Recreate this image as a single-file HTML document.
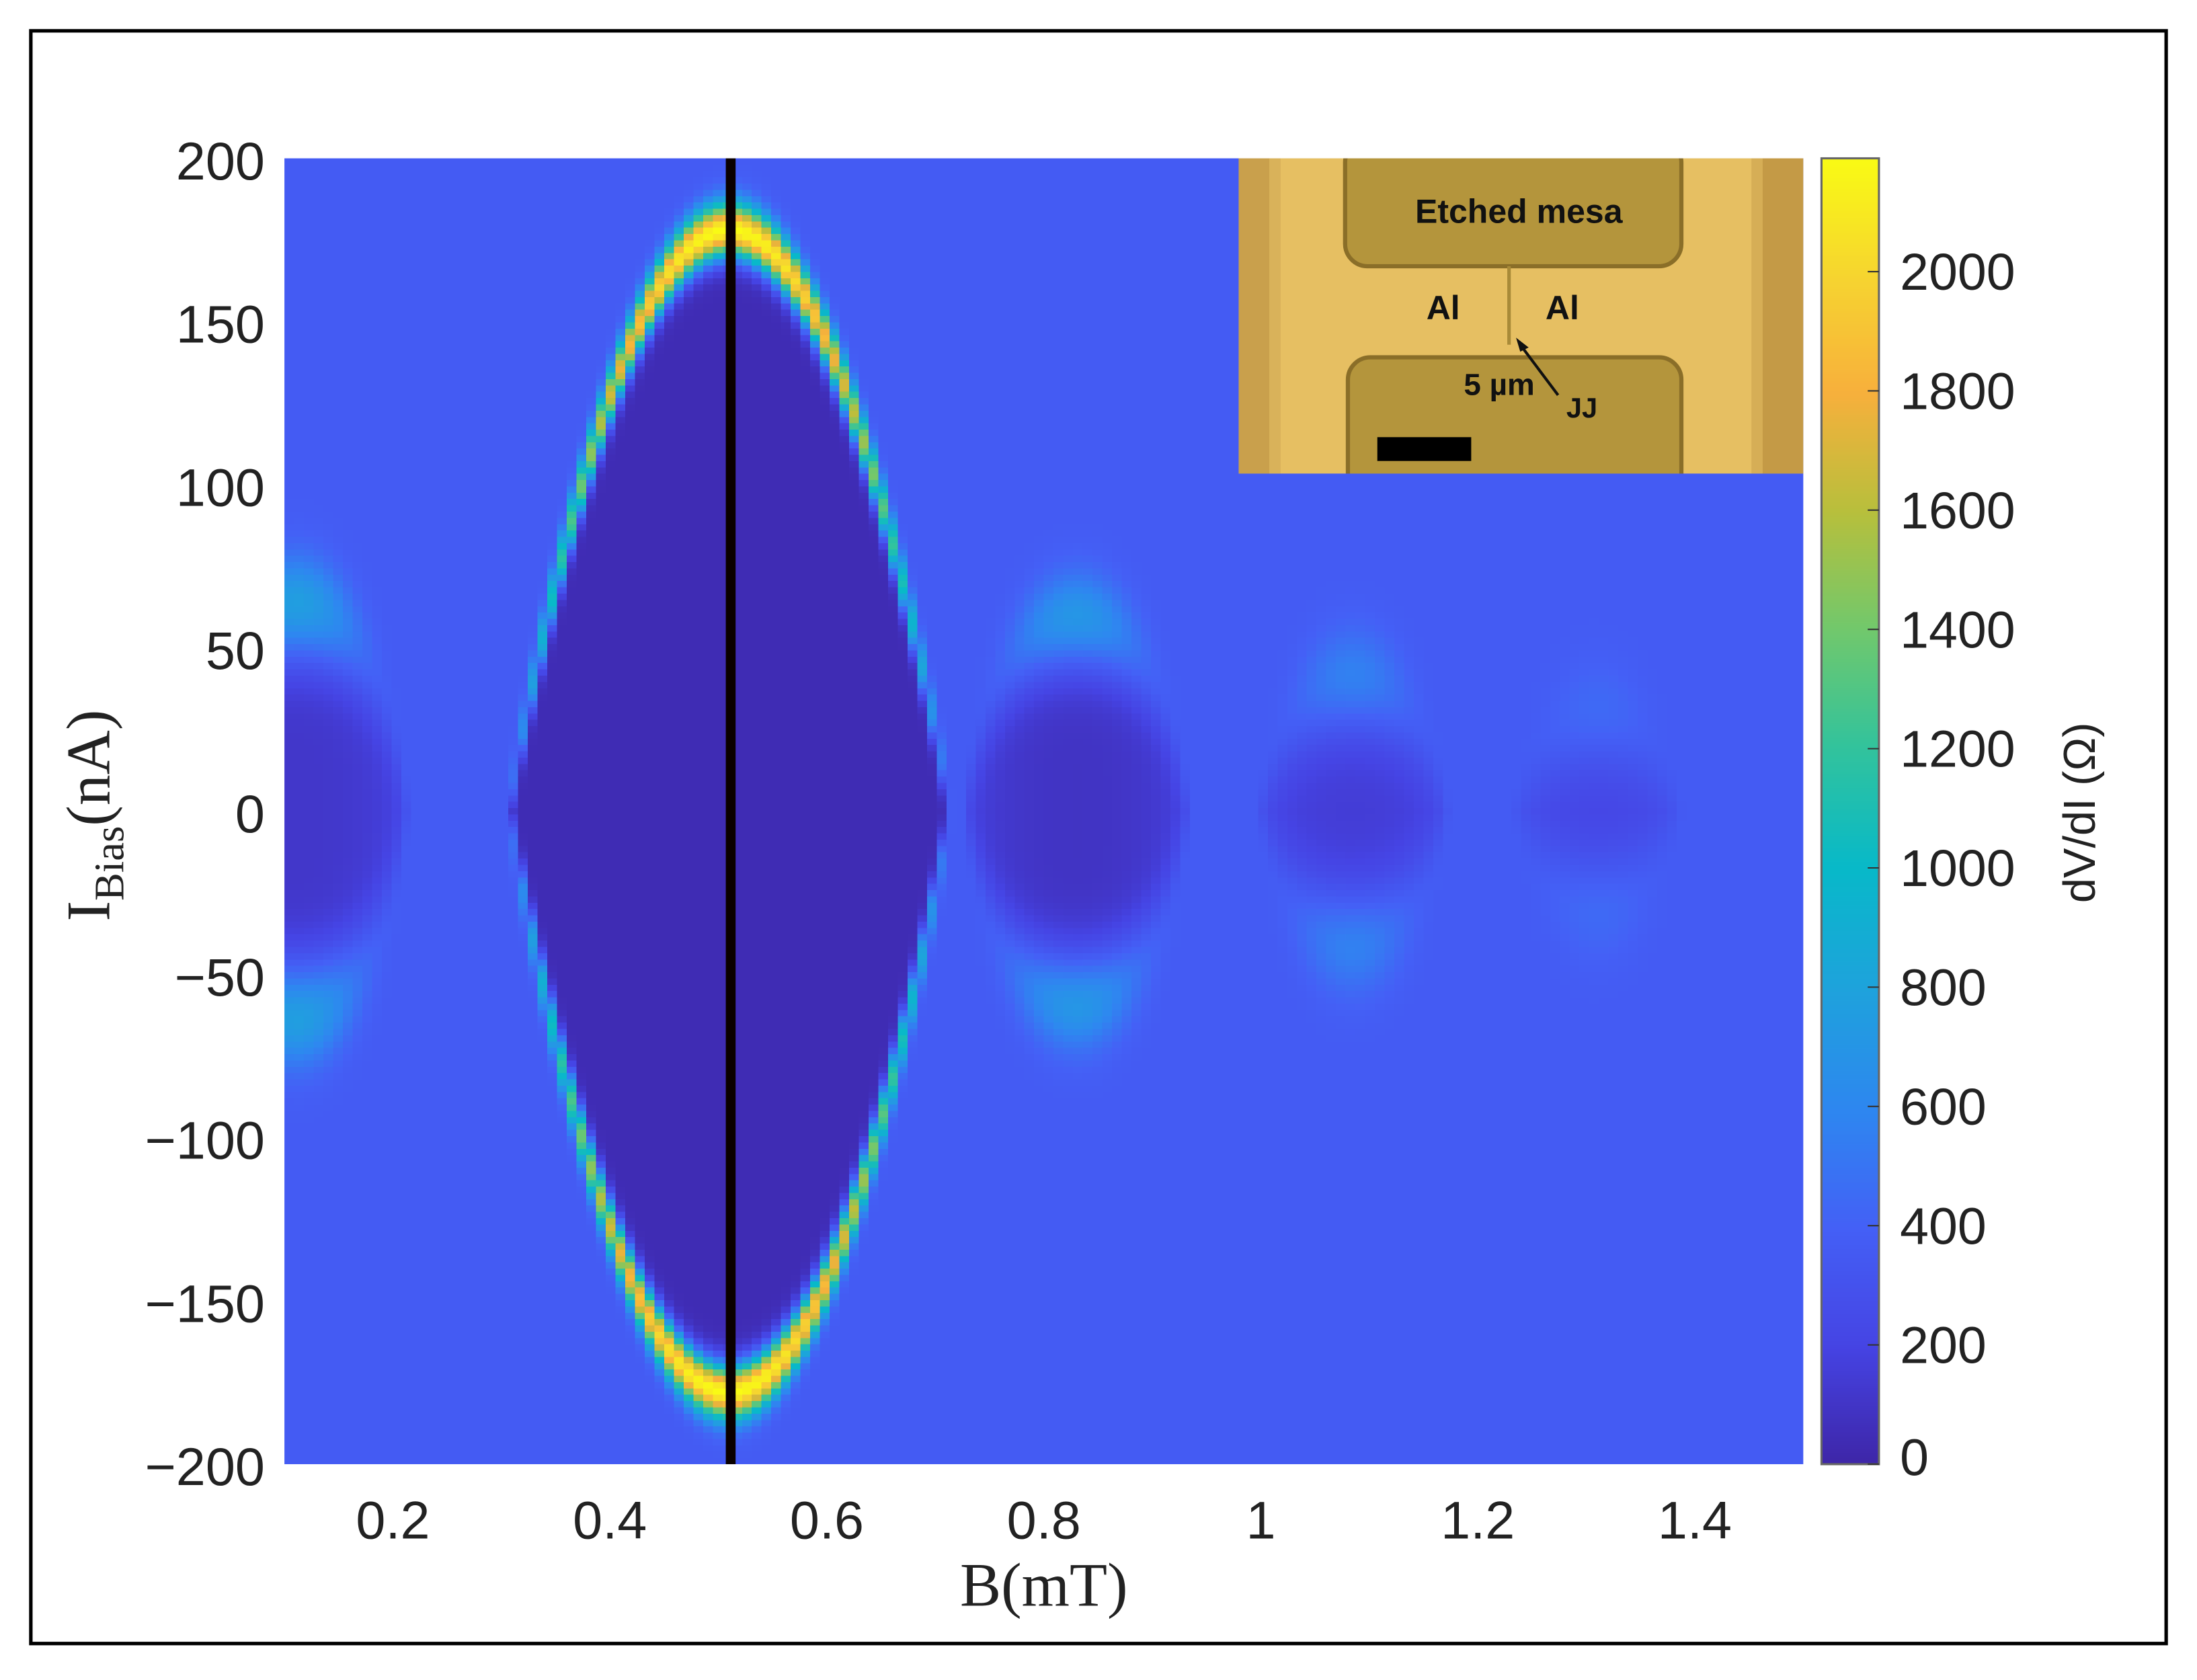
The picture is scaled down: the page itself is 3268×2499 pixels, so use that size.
<!DOCTYPE html>
<html><head><meta charset="utf-8"><style>
html,body{margin:0;padding:0;background:#fff;}
body{width:3268px;height:2499px;overflow:hidden;position:relative;}
#wrap{position:absolute;left:0;top:0;width:1568px;height:1199px;transform:scale(2.08418);transform-origin:0 0;}
#heat{position:absolute;left:203px;top:113px;width:1084px;height:932px;image-rendering:pixelated;}
#cbar{position:absolute;left:1300px;top:113px;width:41px;height:932px;}
svg{position:absolute;left:0;top:0;}
</style></head><body>
<div id="wrap">
<canvas id="heat" width="156" height="207"></canvas>
<canvas id="cbar" width="1" height="300"></canvas>
<svg id="ov" width="1568" height="1199" viewBox="0 0 1568 1199">
<defs><clipPath id="ic"><rect x="884" y="113" width="403" height="225"/></clipPath></defs>
<rect x="22" y="22" width="1524" height="1151" fill="none" stroke="#000" stroke-width="2.5"/>
<g id="inset" clip-path="url(#ic)">
<rect x="884" y="113" width="403" height="225" fill="#e6bf62"/>
<rect x="884" y="113" width="22" height="225" fill="#c9a04c"/>
<rect x="906" y="113" width="8" height="225" fill="#d9b25a"/>
<rect x="1256" y="113" width="31" height="225" fill="#c49a46"/>
<rect x="1250" y="113" width="8" height="225" fill="#d6ae56"/>
<rect x="960" y="100" width="240" height="90" rx="16" fill="#b4953c" stroke="#8a6e28" stroke-width="3"/>
<rect x="962" y="255" width="238" height="100" rx="16" fill="#b4953c" stroke="#8a6e28" stroke-width="3"/>
<line x1="1077" y1="190" x2="1077" y2="246" stroke="#a88a38" stroke-width="2.5"/>
<text x="1084" y="159" font-family="Liberation Sans, sans-serif" font-weight="bold" font-size="24" text-anchor="middle" fill="#111">Etched mesa</text>
<text x="1030" y="228" font-family="Liberation Sans, sans-serif" font-weight="bold" font-size="24" text-anchor="middle" fill="#111">Al</text>
<text x="1115" y="228" font-family="Liberation Sans, sans-serif" font-weight="bold" font-size="24" text-anchor="middle" fill="#111">Al</text>
<text x="1070" y="282" font-family="Liberation Sans, sans-serif" font-weight="bold" font-size="22" text-anchor="middle" fill="#111">5 µm</text>
<text x="1129" y="298" font-family="Liberation Sans, sans-serif" font-weight="bold" font-size="20" text-anchor="middle" fill="#111">JJ</text>
<line x1="1112" y1="282" x2="1085" y2="246" stroke="#111" stroke-width="2"/>
<path d="M1082,241 L1091,248 L1085,251 Z" fill="#111"/>
<rect x="983" y="312" width="67" height="17" fill="#000"/>
</g>
<rect x="518" y="113" width="7" height="932" fill="#0a0000"/>
<rect x="1300" y="113" width="41" height="932" fill="none" stroke="#666" stroke-width="1.5"/>
<g id="xt" font-family="Liberation Sans, sans-serif" font-size="38" fill="#222" text-anchor="middle"></g>
<g id="yt" font-family="Liberation Sans, sans-serif" font-size="38" fill="#222" text-anchor="end"></g>
<g id="ct" font-family="Liberation Sans, sans-serif" font-size="37" fill="#222"></g>
<text x="745" y="1146" font-family="Liberation Serif, serif" font-size="44" text-anchor="middle" fill="#222">B(mT)</text>
<text transform="translate(78,582) rotate(-90)" font-family="Liberation Serif, serif" font-size="44" text-anchor="middle" fill="#222">I<tspan font-size="30" dy="10">Bias</tspan><tspan dy="-10">(nA)</tspan></text>
<text transform="translate(1495,580) rotate(-90)" font-family="Liberation Sans, sans-serif" font-size="32" text-anchor="middle" fill="#222">dV/dI (Ω)</text>
</svg>
</div>
<script>
const xTicks=[0.2,0.4,0.6,0.8,1,1.2,1.4];
const xTickLabels=["0.2","0.4","0.6","0.8","1","1.2","1.4"];
const yTicks=[200,150,100,50,0,-50,-100,-150,-200];
const yTickLabels=["200","150","100","50","0","\u221250","\u2212100","\u2212150","\u2212200"];
const cTicks=[0,200,400,600,800,1000,1200,1400,1600,1800,2000];
const lobeCenter=[0.11,0.51,0.83,1.085,1.31];
const lobeHalfWidth=[0.105,0.205,0.105,0.09,0.08];
const lobeIc=[64,178,60,42,32];
const lobePeak=[760,2190,700,560,440];
const lobeMin=[110,40,90,150,210];
const lobeSigma=[14,8,13,14,14];
const background=360;
const Bmin=0.1,Bmax=1.5,Imin=-200,Imax=200,Cmax=2190;
const PX0=203,PX1=1287,PY0=113,PY1=1045;
function xs(b){return PX0+(b-Bmin)/(Bmax-Bmin)*(PX1-PX0);}
function ys(i){return PY1-(i-Imin)/(Imax-Imin)*(PY1-PY0);}
function cs(v){return PY1-v/Cmax*(PY1-PY0);}
const stops=[[0,"#3e26a8"],[0.09,"#4544e4"],[0.18,"#4460f6"],[0.27,"#2e87f0"],[0.365,"#1ea3dc"],[0.457,"#08b9c9"],[0.55,"#33c39c"],[0.64,"#72c86c"],[0.73,"#b8bf3c"],[0.82,"#f7b03c"],[0.91,"#f6d530"],[1,"#f9fb14"]];
function hx(h){return [parseInt(h.substr(1,2),16),parseInt(h.substr(3,2),16),parseInt(h.substr(5,2),16)];}
function cmap(v){let t=Math.max(0,Math.min(1,v/Cmax));for(let k=1;k<stops.length;k++){if(t<=stops[k][0]){const a=stops[k-1],b=stops[k];const f=(t-a[0])/(b[0]-a[0]);const ca=hx(a[1]),cb=hx(b[1]);return ca.map((c,j)=>Math.round(c+(cb[j]-c)*f));}}return hx(stops[stops.length-1][1]);}
function value(B,I){let v=background;for(let k=0;k<lobeCenter.length;k++){const u=(B-lobeCenter[k])/lobeHalfWidth[k];if(Math.abs(u)>=1)continue;
const f=1-u*u;const ic=lobeIc[k]*(k===1?f:Math.sqrt(f));const d=Math.abs(I)-ic;const g=Math.exp(-Math.pow(d/lobeSigma[k],2));
const pk=background+(lobePeak[k]-background)*Math.pow(f,k===1?1.0:3);
const inner=k===1?lobeMin[k]:background-(background-lobeMin[k])*Math.pow(f,0.25);
let w;if(d<0){const s=k===1?g:Math.exp(-Math.pow(d/(lobeSigma[k]*1.3),2));w=inner+(pk-inner)*s;}else w=background+(pk-background)*g;
if(Math.abs(v-background)<Math.abs(w-background))v=w;}return v;}
const hc=document.getElementById('heat'),ctx=hc.getContext('2d');
const nx=hc.width,ny=hc.height,img=ctx.createImageData(nx,ny);
for(let j=0;j<ny;j++){const I=Imax-(j+0.5)/ny*(Imax-Imin);for(let i=0;i<nx;i++){const B=Bmin+(i+0.5)/nx*(Bmax-Bmin);const c=cmap(value(B,I));const p=(j*nx+i)*4;img.data[p]=c[0];img.data[p+1]=c[1];img.data[p+2]=c[2];img.data[p+3]=255;}}
ctx.putImageData(img,0,0);
const cb=document.getElementById('cbar'),cx2=cb.getContext('2d');
for(let j=0;j<cb.height;j++){const c=cmap(Cmax*(1-(j+0.5)/cb.height));cx2.fillStyle='rgb('+c.join(',')+')';cx2.fillRect(0,j,1,1);}
const NS='http://www.w3.org/2000/svg';
const xt=document.getElementById('xt');
xTicks.forEach((b,k)=>{const t=document.createElementNS(NS,'text');t.setAttribute('x',xs(b));t.setAttribute('y',1098);t.textContent=xTickLabels[k];


xt.appendChild(t);});
const yt=document.getElementById('yt');
yTicks.forEach((v,k)=>{const t=document.createElementNS(NS,'text');t.setAttribute('x',189);t.setAttribute('y',ys(v)+15);t.textContent=yTickLabels[k];


yt.appendChild(t);});
const ct=document.getElementById('ct');
cTicks.forEach(v=>{const t=document.createElementNS(NS,'text');t.setAttribute('x',1356);t.setAttribute('y',Math.min(cs(v),1040)+13);t.textContent=String(v);


ct.appendChild(t);
const l=document.createElementNS(NS,'line');l.setAttribute('x1',1333);l.setAttribute('x2',1341);l.setAttribute('y1',cs(v));l.setAttribute('y2',cs(v));l.setAttribute('stroke','#333');l.setAttribute('stroke-width','1');


ct.appendChild(l);});
</script>
</body></html>
